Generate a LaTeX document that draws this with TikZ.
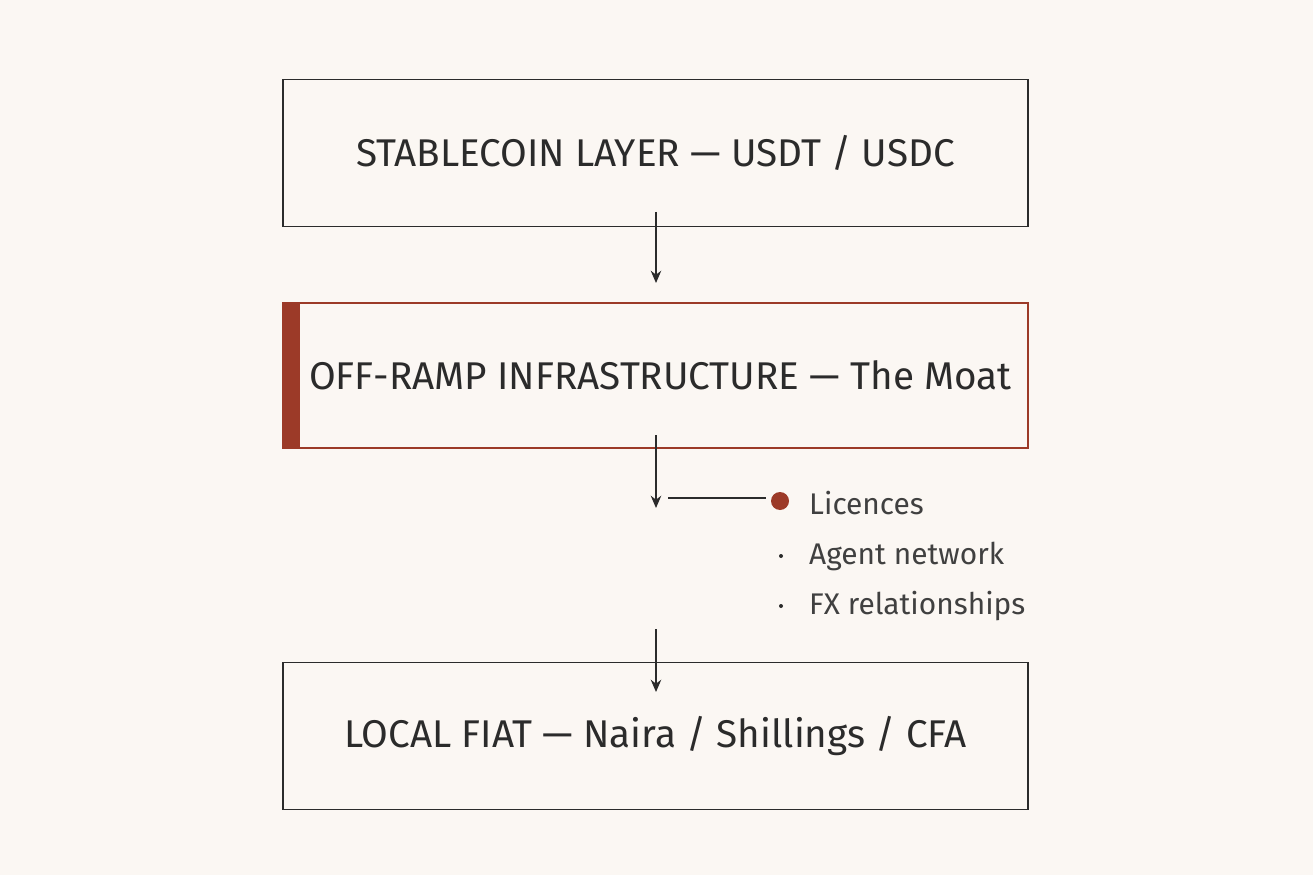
\documentclass[tikz,border=0pt]{standalone}
\usepackage{fontspec}
\setmainfont{Fira Sans}
\usetikzlibrary{arrows.meta, positioning}
\definecolor{paper}{HTML}{FBF7F3}
\definecolor{ink}{HTML}{2B2B2B}
\definecolor{rust}{HTML}{9C3A28}

\begin{document}
\begin{tikzpicture}[
      x=0.02cm, y=-0.02cm,
      every node/.style={font=\fontsize{22}{26}\selectfont, text=ink},
      box/.style={draw=ink, line width=0.8pt, rectangle, minimum width=14.9cm, minimum height=2.95cm, align=center, fill=paper},
      flow/.style={-{Stealth[length=7pt, width=6pt]}, draw=ink, line width=0.8pt},
      item/.style={font=\fontsize{17}{20}\selectfont, text=ink!90, anchor=west}
    ]
    \fill[paper] (0,0) rectangle (1313,875);

    % Nodes
    \node[box] (stable) at (655.5,153) {STABLECOIN LAYER — USDT / USDC};
    \node[box, draw=rust, minimum height=2.9cm] (ramp) at (655.5,375.5) {\hspace*{0.2cm}OFF-RAMP INFRASTRUCTURE — The Moat};
    \fill[rust] (ramp.north west) rectangle ++(18,145);
    \node[box] (fiat) at (655.5,736) {LOCAL FIAT — Naira / Shillings / CFA};

    % Arrows
    \coordinate (a1) at (656,212);
    \coordinate (b1) at (656,283);
    \coordinate (a2) at (656,435);
    \coordinate (b2) at (656,508);
    \coordinate (a3) at (656,629);
    \coordinate (b3) at (656,692);
    \draw[flow] (a1) -- (b1);
    \draw[flow] (a2) -- (b2);
    \draw[flow] (a3) -- (b3);

    % Side list
    \coordinate (tap) at (668,498);
    \fill[rust] (780,501) circle (9);
    \coordinate (dot) at (766,498);
    \draw[ink, line width=0.6pt] (tap) -- (dot);
    \fill[ink] (781,556) circle (2);
    \fill[ink] (781,606) circle (2);
    \node[item] (lic) at (803,503) {Licences};
    \node[item] (agent) at (803,556) {Agent network};
    \node[item] (fx) at (803,606) {FX relationships};
\end{tikzpicture}
\end{document}
